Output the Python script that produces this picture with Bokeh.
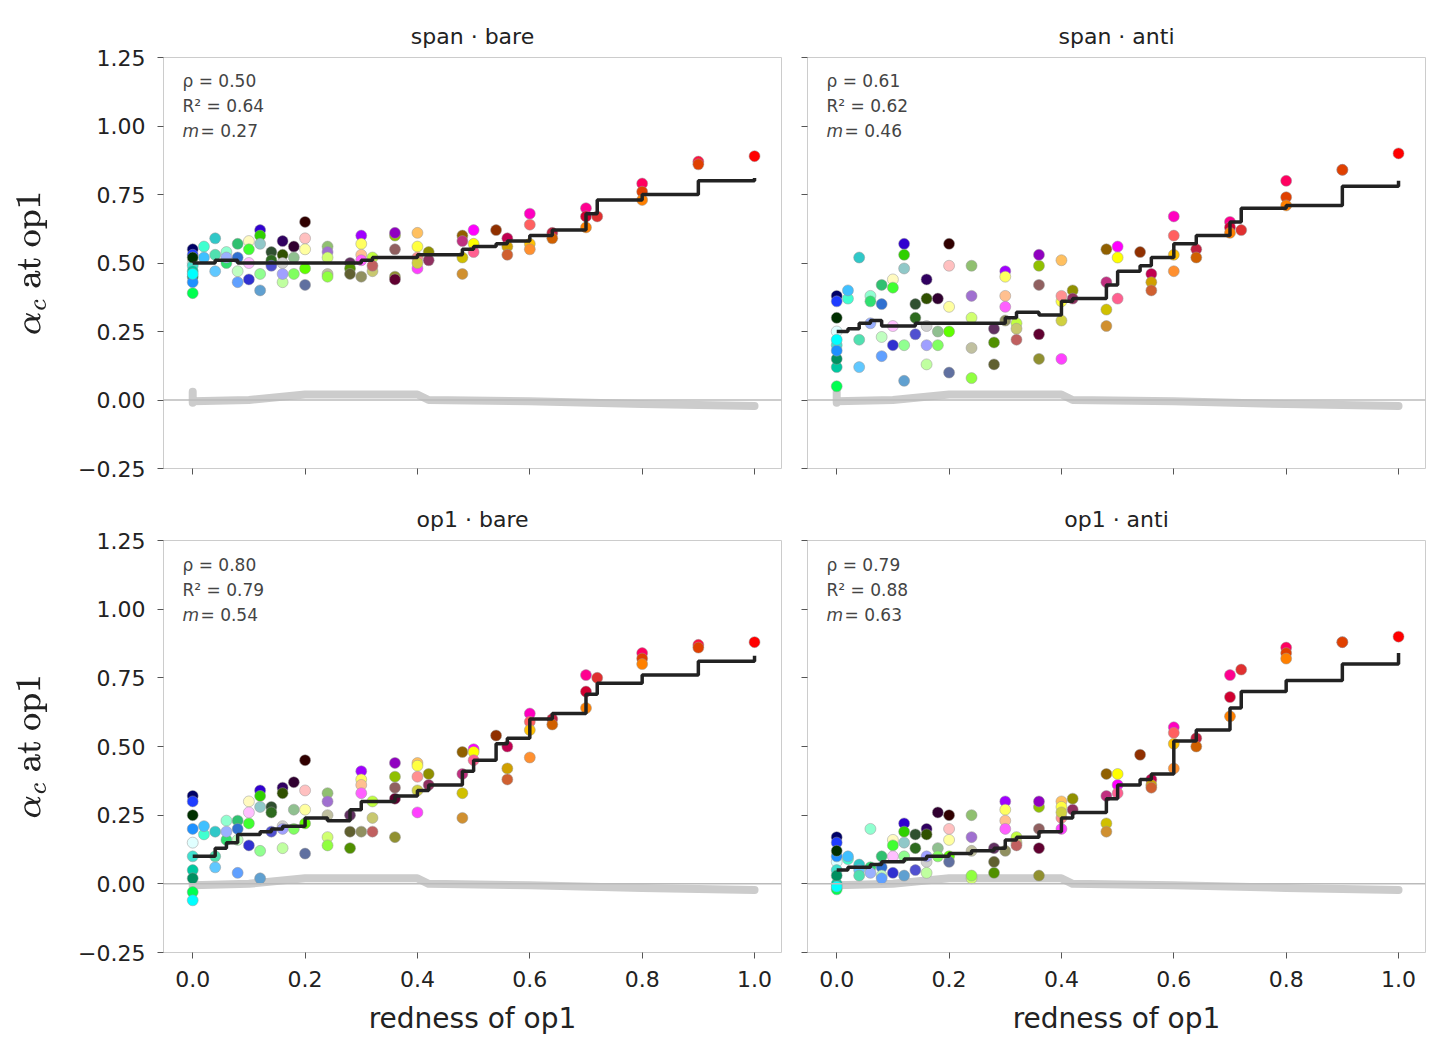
from bokeh.plotting import figure
from bokeh.layouts import gridplot
from bokeh.models import Span, Label, FixedTicker
from bokeh.embed import file_html
from bokeh.resources import INLINE

# x columns (redness of op1) and the point colours in each column
col_x = [0.0, 0.02, 0.04, 0.06, 0.08, 0.10, 0.12, 0.14, 0.16, 0.18, 0.20, 0.24, 0.28, 0.30,
         0.32, 0.36, 0.40, 0.42, 0.48, 0.50, 0.54, 0.56, 0.60, 0.64, 0.70, 0.72, 0.80, 0.90, 1.0]
col_colors = [
    ["#000066", "#1e3cff", "#e0ffff", "#40e0d0", "#00c8a0", "#009060", "#00ff50", "#1e90ff", "#00ffff", "#003000"],
    ["#40ffd0", "#40c0ff"],
    ["#30c8c8", "#60c8ff", "#50e0b0"],
    ["#90ffd0", "#30e070", "#9ab0ff"],
    ["#30c070", "#3070d0", "#c0ffc0", "#60a0ff"],
    ["#fffac0", "#40ff30", "#ffc0ff", "#3030d0"],
    ["#3000d0", "#30d000", "#90c8c8", "#60a0d0", "#90ff90"],
    ["#305030", "#2e6b1f", "#5050d0"],
    ["#300060", "#305000", "#d0d0d0", "#c0ffa0", "#a0a0ff"],
    ["#300030", "#90c090", "#80ff60"],
    ["#300000", "#ffc0c0", "#ffffa0", "#60ff00", "#6070a0"],
    ["#90c070", "#a070d0", "#d0ff70", "#c0c0a0", "#90ff40"],
    ["#603060", "#509000", "#606030"],
    ["#a000ff", "#ffff60", "#ffc090", "#ff60ff", "#909060"],
    ["#c0ff40", "#c8c870", "#c06060"],
    ["#90c000", "#9000c0", "#906060", "#909030", "#600030"],
    ["#ffc060", "#ffff40", "#ff9090", "#ff40ff", "#d0d040"],
    ["#909000", "#903060"],
    ["#906000", "#c03080", "#d0c000", "#d09030"],
    ["#ff00ff", "#ffff00", "#ff6090"],
    ["#903000"],
    ["#c00050", "#d0a000", "#d06030"],
    ["#ff00c0", "#ff6060", "#ffc000", "#ff9030"],
    ["#c02040", "#d06000"],
    ["#ff0090", "#d00030", "#ff8000"],
    ["#e03030"],
    ["#ff0060", "#e04000", "#ff8000"],
    ["#ff1040", "#e04000"],
    ["#ff0000"],
]

span_bare_y = [
    [0.55, 0.53, 0.50, 0.49, 0.47, 0.45, 0.39, 0.43, 0.46, 0.52], [0.56, 0.52], [0.59, 0.47, 0.53],
    [0.54, 0.50, 0.52], [0.57, 0.52, 0.47, 0.43], [0.58, 0.55, 0.50, 0.44], [0.62, 0.60, 0.57, 0.40, 0.46],
    [0.54, 0.51, 0.49], [0.58, 0.53, 0.50, 0.43, 0.46], [0.56, 0.52, 0.46], [0.65, 0.59, 0.55, 0.48, 0.42],
    [0.56, 0.54, 0.52, 0.46, 0.45], [0.50, 0.48, 0.46], [0.60, 0.57, 0.53, 0.51, 0.45], [0.52, 0.47, 0.49],
    [0.60, 0.61, 0.55, 0.45, 0.44], [0.61, 0.56, 0.52, 0.48, 0.50], [0.54, 0.51], [0.60, 0.58, 0.52, 0.46],
    [0.62, 0.57, 0.54], [0.62], [0.59, 0.56, 0.53], [0.68, 0.64, 0.57, 0.55], [0.61, 0.59],
    [0.70, 0.67, 0.63], [0.67], [0.79, 0.76, 0.73], [0.87, 0.86], [0.89],
]
span_anti_y = [
    [0.38, 0.36, 0.25, 0.20, 0.12, 0.15, 0.05, 0.18, 0.22, 0.30], [0.37, 0.40], [0.52, 0.12, 0.22],
    [0.38, 0.36, 0.28], [0.42, 0.35, 0.23, 0.16], [0.44, 0.41, 0.27, 0.20], [0.57, 0.53, 0.48, 0.07, 0.20],
    [0.35, 0.30, 0.24], [0.44, 0.37, 0.27, 0.13, 0.20], [0.37, 0.25, 0.20], [0.57, 0.49, 0.34, 0.25, 0.10],
    [0.49, 0.38, 0.30, 0.19, 0.08], [0.26, 0.21, 0.13], [0.47, 0.45, 0.38, 0.34, 0.29], [0.28, 0.26, 0.22],
    [0.49, 0.53, 0.42, 0.15, 0.24], [0.51, 0.36, 0.38, 0.15, 0.29], [0.40, 0.37], [0.55, 0.43, 0.33, 0.27],
    [0.56, 0.52, 0.37], [0.54], [0.46, 0.43, 0.40], [0.67, 0.60, 0.53, 0.47], [0.55, 0.52],
    [0.65, 0.63, 0.61], [0.62], [0.80, 0.74, 0.71], [0.84, 0.84], [0.90],
]
op1_bare_y = [
    [0.32, 0.30, 0.15, 0.10, 0.05, 0.02, -0.03, 0.20, -0.06, 0.25], [0.18, 0.21], [0.19, 0.06, 0.10],
    [0.23, 0.16, 0.19], [0.23, 0.20, 0.16, 0.04], [0.30, 0.22, 0.26, 0.14], [0.34, 0.32, 0.28, 0.02, 0.12],
    [0.28, 0.26, 0.19], [0.35, 0.33, 0.21, 0.13, 0.20], [0.37, 0.27, 0.20], [0.45, 0.34, 0.27, 0.22, 0.11],
    [0.33, 0.30, 0.17, 0.25, 0.14], [0.25, 0.13, 0.19], [0.41, 0.38, 0.36, 0.33, 0.19], [0.30, 0.24, 0.19],
    [0.39, 0.44, 0.35, 0.17, 0.31], [0.44, 0.43, 0.39, 0.26, 0.34], [0.40, 0.36], [0.48, 0.40, 0.33, 0.24],
    [0.49, 0.48, 0.45], [0.54], [0.50, 0.42, 0.38], [0.62, 0.59, 0.56, 0.46], [0.60, 0.58],
    [0.76, 0.70, 0.64], [0.75], [0.84, 0.82, 0.80], [0.87, 0.86], [0.88],
]
op1_anti_y = [
    [0.17, 0.15, 0.08, 0.05, 0.00, 0.03, -0.02, 0.10, -0.01, 0.12], [0.09, 0.10], [0.07, 0.05, 0.03],
    [0.20, 0.06, 0.04], [0.10, 0.06, 0.03, 0.02], [0.16, 0.14, 0.10, 0.04], [0.22, 0.19, 0.15, 0.03, 0.10],
    [0.18, 0.13, 0.05], [0.20, 0.18, 0.08, 0.04, 0.10], [0.26, 0.13, 0.10], [0.25, 0.20, 0.16, 0.10, 0.08],
    [0.25, 0.17, 0.02, 0.12, 0.03], [0.13, 0.04, 0.08], [0.30, 0.27, 0.23, 0.20, 0.12], [0.17, 0.15, 0.14],
    [0.28, 0.30, 0.20, 0.03, 0.13], [0.30, 0.28, 0.24, 0.20, 0.26], [0.31, 0.27], [0.40, 0.32, 0.22, 0.19],
    [0.36, 0.40, 0.33], [0.47], [0.38, 0.36, 0.35], [0.57, 0.55, 0.51, 0.42], [0.53, 0.50],
    [0.76, 0.68, 0.61], [0.78], [0.86, 0.84, 0.82], [0.88, 0.88], [0.90],
]

# step fit per panel (one value per column)
span_bare_fit = [0.50, 0.50, 0.51, 0.51, 0.50, 0.50, 0.50, 0.50, 0.50, 0.50, 0.50, 0.50, 0.50, 0.51, 0.52,
                 0.52, 0.53, 0.53, 0.55, 0.56, 0.57, 0.58, 0.60, 0.62, 0.68, 0.73, 0.75, 0.80, 0.81]
span_anti_fit = [0.25, 0.26, 0.28, 0.29, 0.27, 0.27, 0.27, 0.28, 0.28, 0.28, 0.28, 0.28, 0.28, 0.30, 0.32,
                 0.31, 0.36, 0.37, 0.42, 0.47, 0.49, 0.52, 0.57, 0.60, 0.65, 0.70, 0.71, 0.78, 0.80]
op1_bare_fit = [0.10, 0.10, 0.13, 0.15, 0.18, 0.18, 0.19, 0.20, 0.21, 0.21, 0.24, 0.23, 0.27, 0.30, 0.30,
                0.32, 0.34, 0.36, 0.41, 0.45, 0.51, 0.53, 0.60, 0.62, 0.69, 0.73, 0.76, 0.81, 0.83]
op1_anti_fit = [0.05, 0.06, 0.06, 0.07, 0.08, 0.08, 0.09, 0.09, 0.10, 0.10, 0.11, 0.12, 0.13, 0.16, 0.17,
                0.19, 0.24, 0.26, 0.31, 0.36, 0.38, 0.40, 0.52, 0.56, 0.64, 0.70, 0.74, 0.80, 0.84]

# grey null band
null_x = [0.0, 0.0, 0.0, 0.1, 0.2, 0.3, 0.4, 0.42, 0.6, 0.8, 1.0]
null_y = [0.03, -0.01, -0.005, 0.0, 0.02, 0.02, 0.02, 0.0, -0.005, -0.015, -0.022]

panels = [
    ("span · bare", span_bare_y, span_bare_fit, ["ρ = 0.50", "R² = 0.64", "0.27"]),
    ("span · anti", span_anti_y, span_anti_fit, ["ρ = 0.61", "R² = 0.62", "0.46"]),
    ("op1 · bare", op1_bare_y, op1_bare_fit, ["ρ = 0.80", "R² = 0.79", "0.54"]),
    ("op1 · anti", op1_anti_y, op1_anti_fit, ["ρ = 0.79", "R² = 0.88", "0.63"]),
]

FONT = "DejaVu Sans"
figs = []
for i, (title, ys, fit, stats) in enumerate(panels):
    left = i % 2 == 0
    bottom = i >= 2
    p = figure(width=(163 + 618 + 5) if left else (21 + 618 + 14),
               height=(50 + 412 + 100) if bottom else (57 + 411 + 22),
               x_range=(-0.052, 1.048), y_range=(-0.25, 1.25),
               output_backend="svg", toolbar_location=None,
               min_border_left=163 if left else 21, min_border_right=5 if left else 14,
               min_border_top=50 if bottom else 57, min_border_bottom=100 if bottom else 22)
    p.title.text = title
    p.title.align = "center"
    p.title.text_font = FONT
    p.title.text_font_size = "22px"
    p.title.text_font_style = "normal"
    p.title.text_color = "#222222"
    p.title.standoff = 18
    p.grid.visible = False
    p.outline_line_color = "#cccccc"
    for ax in (p.xaxis[0], p.yaxis[0]):
        ax.axis_line_color = None
        ax.major_tick_line_color = "#555555"
        ax.major_tick_out = 6
        ax.major_tick_in = 0
        ax.minor_tick_line_color = None
        ax.major_label_standoff = 12
        ax.major_label_text_font = FONT
        ax.major_label_text_font_size = "22px"
        ax.major_label_text_color = "#222222"
        ax.axis_label_text_font = FONT
        ax.axis_label_text_font_size = "28px"
        ax.axis_label_text_font_style = "normal"
        ax.axis_label_text_color = "#222222"
    p.xaxis.axis_label_standoff = 12
    p.yaxis.axis_label_standoff = 26
    p.xaxis.ticker = FixedTicker(ticks=[0, 0.2, 0.4, 0.6, 0.8, 1.0])
    p.yaxis.ticker = FixedTicker(ticks=[-0.25, 0, 0.25, 0.5, 0.75, 1.0, 1.25])
    p.xaxis.major_label_overrides = {0: "0.0", 1.0: "1.0"}
    p.yaxis.major_label_overrides = {-0.25: "−0.25", 0: "0.00", 0.25: "0.25", 0.5: "0.50",
                                     0.75: "0.75", 1.0: "1.00", 1.25: "1.25"}
    if bottom:
        p.xaxis.axis_label = "redness of op1"
    else:
        p.xaxis.major_label_text_font_size = "0px"
    if left:
        p.yaxis.axis_label = r"$$\alpha_c \text{ at op1}$$"
    else:
        p.yaxis.major_label_text_font_size = "0px"

    p.add_layout(Span(location=0, dimension="width", line_color="#bbbbbb", line_width=1.5))
    p.line(null_x, null_y, line_color="#cccccc", line_width=8, line_cap="round", line_join="round")

    px, py, pc = [], [], []
    for x, cols, vals in zip(col_x, col_colors, ys):
        for c, v in zip(cols, vals):
            px.append(x)
            py.append(v)
            pc.append(c)
    p.scatter(px, py, size=11, fill_color=pc, line_color="#999999", line_width=0.5)

    p.step(col_x, fit, mode="after", line_color="#222222", line_width=3.5)

    for k, s in enumerate(stats[:2]):
        p.add_layout(Label(x=19, y=388 - 25 * k, x_units="screen", y_units="screen", text=s,
                           text_font=FONT, text_font_size="17px", text_color="#444444",
                           text_baseline="middle"))
    p.add_layout(Label(x=19, y=338, x_units="screen", y_units="screen", text="m",
                       text_font=FONT, text_font_size="17px", text_font_style="italic",
                       text_color="#444444", text_baseline="middle"))
    p.add_layout(Label(x=37, y=338, x_units="screen", y_units="screen", text="= " + stats[2],
                       text_font=FONT, text_font_size="17px", text_color="#444444",
                       text_baseline="middle"))
    figs.append(p)

grid = gridplot([[figs[0], figs[1]], [figs[2], figs[3]]], toolbar_location=None)

open("out.html", "w").write(file_html(grid, INLINE))
